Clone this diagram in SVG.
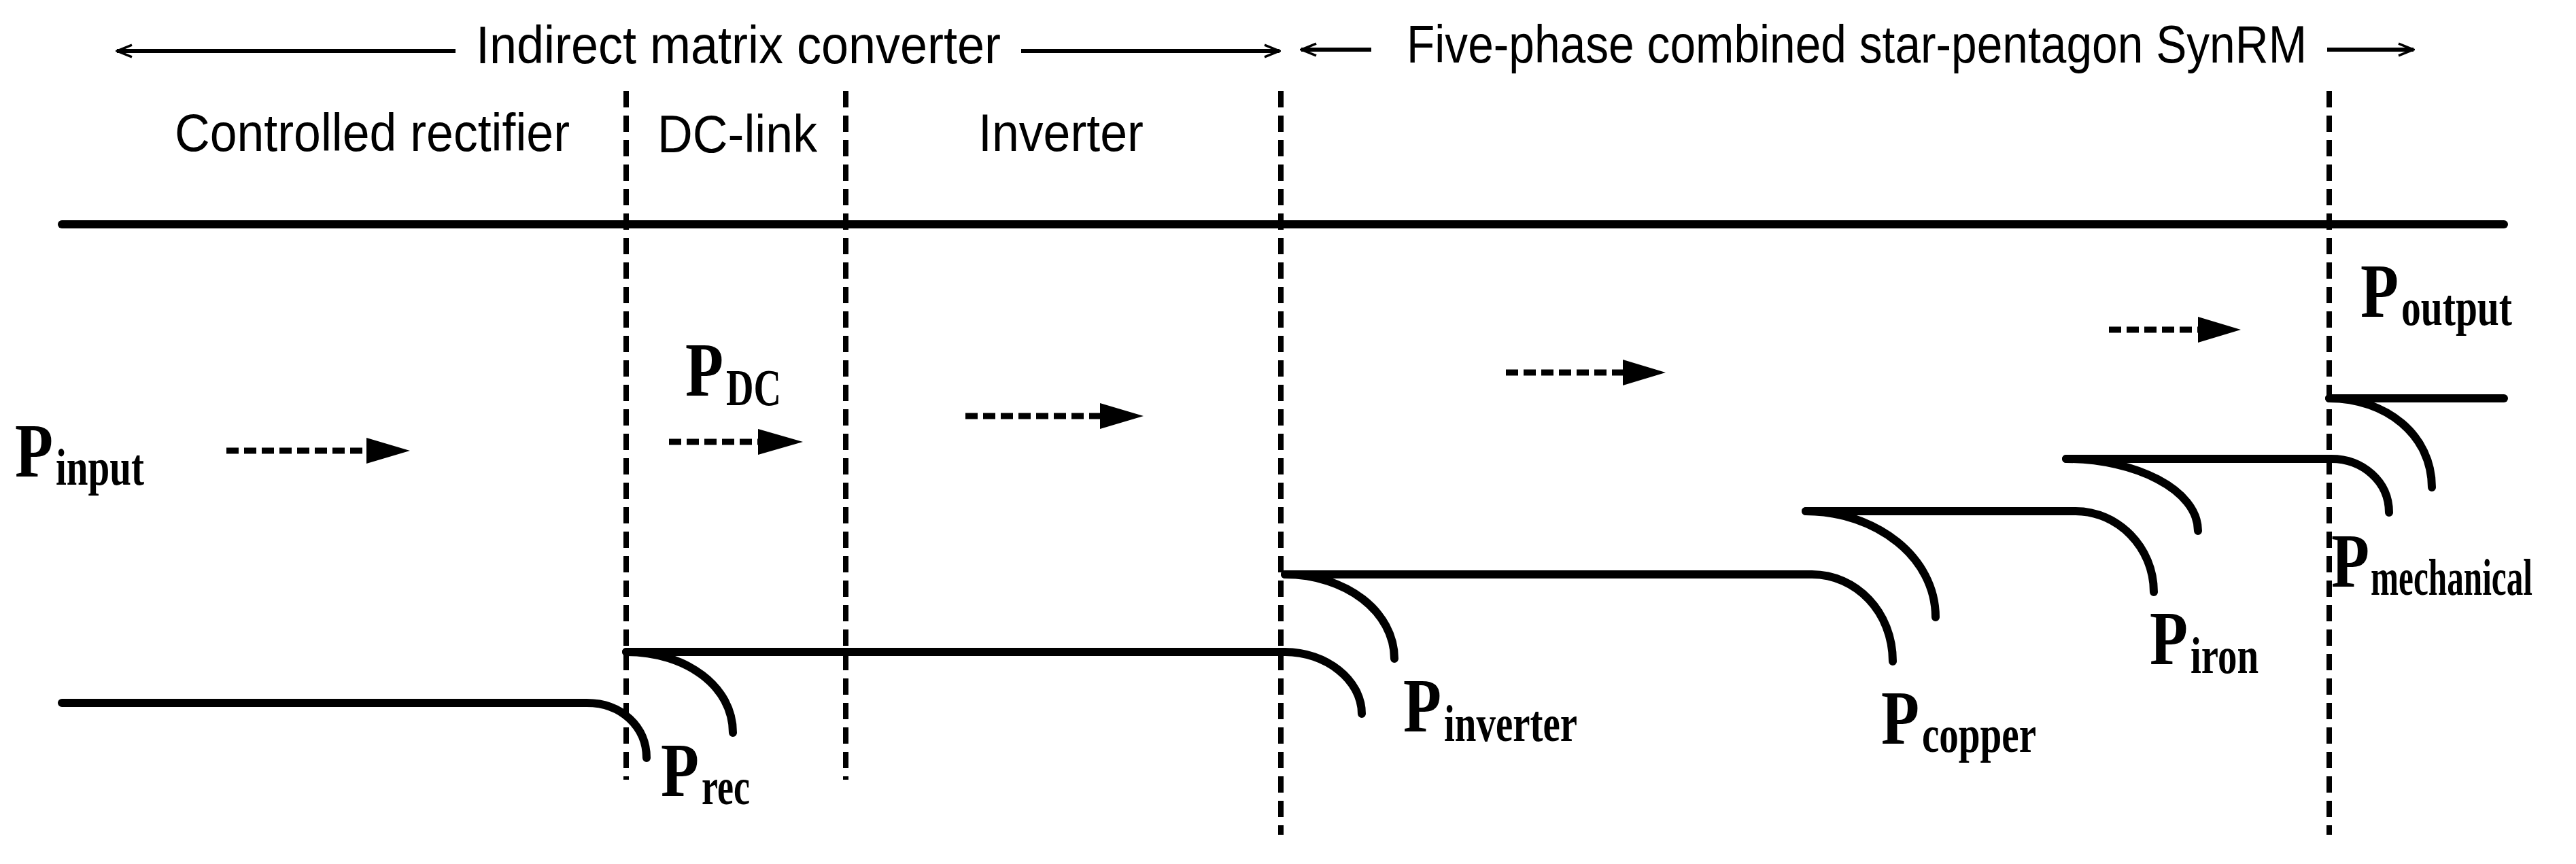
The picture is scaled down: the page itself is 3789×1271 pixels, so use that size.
<svg xmlns="http://www.w3.org/2000/svg" width="3789" height="1271" viewBox="0 0 3789 1271">
<style>
.h{font-family:"Liberation Sans",Arial,sans-serif;font-size:78px;fill:#000}
.P{font-family:"Liberation Serif","Times New Roman",serif;font-weight:bold;font-size:112px;fill:#000}
.s{font-family:"Liberation Serif","Times New Roman",serif;font-weight:bold;font-size:76px;fill:#000}
.ln{fill:none;stroke:#000;stroke-width:12;stroke-linecap:round}
.vd{fill:none;stroke:#000;stroke-width:8;stroke-dasharray:24 12}
.ad{fill:none;stroke:#000;stroke-width:9;stroke-dasharray:18 8}
.ha{fill:none;stroke:#000;stroke-width:6}
</style>
<defs>
<marker id="sh" viewBox="0 0 10 10" refX="10" refY="5" markerWidth="26" markerHeight="22" markerUnits="userSpaceOnUse" orient="auto-start-reverse"><path d="M0,1 L10,5 L0,9" fill="none" stroke="#000" stroke-width="1.6"/></marker>
</defs>
<g id="headers">
<line class="ha" x1="172" y1="75" x2="670" y2="75" marker-start="url(#sh)"/>
<text class="h" x="700" y="93" textLength="772" lengthAdjust="spacingAndGlyphs">Indirect matrix converter</text>
<line class="ha" x1="1502" y1="75" x2="1882" y2="75" marker-end="url(#sh)"/>
<line class="ha" x1="1914" y1="73" x2="2017" y2="73" marker-start="url(#sh)"/>
<text class="h" x="2069" y="92" textLength="1324" lengthAdjust="spacingAndGlyphs">Five-phase combined star-pentagon SynRM</text>
<line class="ha" x1="3423" y1="73" x2="3550" y2="73" marker-end="url(#sh)"/>
<text class="h" x="257" y="222" textLength="581" lengthAdjust="spacingAndGlyphs">Controlled rectifier</text>
<text class="h" x="967" y="224" textLength="235" lengthAdjust="spacingAndGlyphs">DC-link</text>
<text class="h" x="1439" y="222" textLength="243" lengthAdjust="spacingAndGlyphs">Inverter</text>
</g>
<g id="dividers">
<line class="vd" x1="921" y1="134" x2="921" y2="1147"/>
<line class="vd" x1="1244" y1="134" x2="1244" y2="1147"/>
<line class="vd" x1="1884" y1="134" x2="1884" y2="1228"/>
<line class="vd" x1="3426" y1="134" x2="3426" y2="1228"/>
</g>
<g id="connectors">
<line class="ln" x1="91" y1="330" x2="3683" y2="330"/>
<path class="ln" d="M91 1034 H863 C915 1034 951 1070 951 1115"/>
<path class="ln" d="M921 959 H1890 C1950 959 2003 1000 2003 1050"/>
<path class="ln" d="M921 959 C1010 959 1078 1010 1078 1078"/>
<path class="ln" d="M1890 845 H2665 C2730 845 2784 900 2784 973"/>
<path class="ln" d="M1890 845 C1980 845 2051 900 2051 969"/>
<path class="ln" d="M2656 752 H3053 C3115 752 3168 805 3168 871"/>
<path class="ln" d="M2656 752 C2760 752 2847 820 2847 908"/>
<path class="ln" d="M3039 675 H3429 C3475 675 3514 708 3514 754"/>
<path class="ln" d="M3039 675 C3140 675 3233 720 3233 781"/>
<path class="ln" d="M3426 586 H3683"/>
<path class="ln" d="M3426 586 C3510 586 3577 640 3577 717"/>
<line class="ad" x1="333" y1="663" x2="540" y2="663"/><path d="M539 644 L603 663 L539 682Z"/>
<line class="ad" x1="984" y1="650" x2="1116" y2="650"/><path d="M1115 631 L1181 650 L1115 669Z"/>
<line class="ad" x1="1420" y1="612" x2="1619" y2="612"/><path d="M1618 593 L1682 612 L1618 631Z"/>
<line class="ad" x1="2215" y1="548" x2="2388" y2="548"/><path d="M2387 529 L2450 548 L2387 567Z"/>
<line class="ad" x1="3102" y1="485" x2="3234" y2="485"/><path d="M3233 466 L3296 485 L3233 504Z"/>
</g>
<g id="label-input"><text class="P" x="22" y="701" textLength="56" lengthAdjust="spacingAndGlyphs">P</text><text class="s" x="82" y="713" textLength="130" lengthAdjust="spacingAndGlyphs">input</text></g>
<g id="label-dc"><text class="P" x="1008" y="582" textLength="56" lengthAdjust="spacingAndGlyphs">P</text><text class="s" x="1068" y="596" textLength="81" lengthAdjust="spacingAndGlyphs">DC</text></g>
<g id="label-rec"><text class="P" x="972" y="1171" textLength="56" lengthAdjust="spacingAndGlyphs">P</text><text class="s" x="1032" y="1183" textLength="71" lengthAdjust="spacingAndGlyphs">rec</text></g>
<g id="label-inverter"><text class="P" x="2064" y="1076" textLength="56" lengthAdjust="spacingAndGlyphs">P</text><text class="s" x="2124" y="1090" textLength="196" lengthAdjust="spacingAndGlyphs">inverter</text></g>
<g id="label-copper"><text class="P" x="2767" y="1094" textLength="56" lengthAdjust="spacingAndGlyphs">P</text><text class="s" x="2827" y="1106" textLength="168" lengthAdjust="spacingAndGlyphs">copper</text></g>
<g id="label-iron"><text class="P" x="3162" y="977" textLength="56" lengthAdjust="spacingAndGlyphs">P</text><text class="s" x="3222" y="990" textLength="100" lengthAdjust="spacingAndGlyphs">iron</text></g>
<g id="label-mechanical"><text class="P" x="3429" y="863" textLength="56" lengthAdjust="spacingAndGlyphs">P</text><text class="s" x="3487" y="875" textLength="238" lengthAdjust="spacingAndGlyphs">mechanical</text></g>
<g id="label-output"><text class="P" x="3472" y="466" textLength="56" lengthAdjust="spacingAndGlyphs">P</text><text class="s" x="3532" y="478" textLength="163" lengthAdjust="spacingAndGlyphs">output</text></g>
</svg>
